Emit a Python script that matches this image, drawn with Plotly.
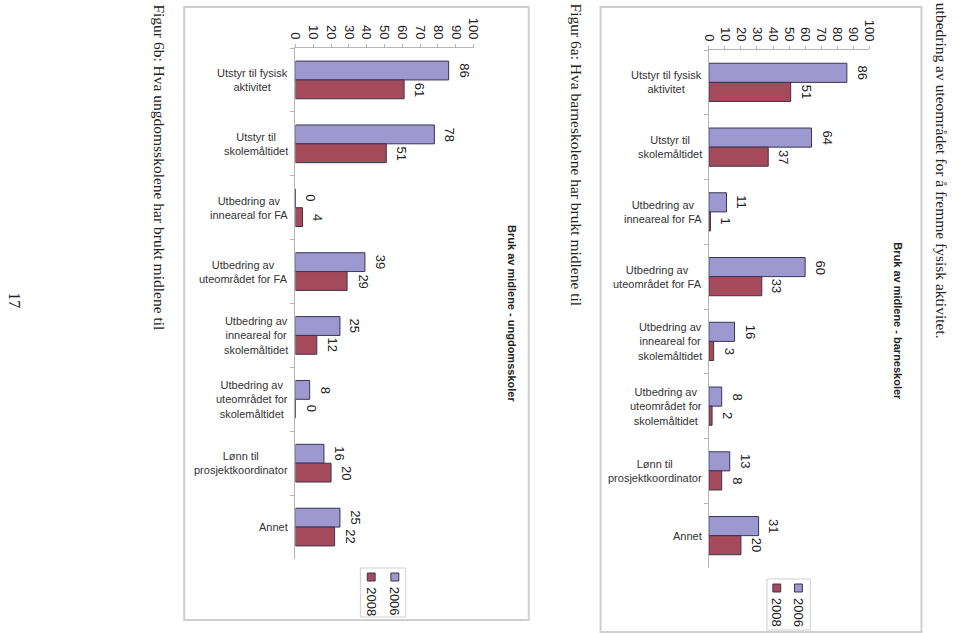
import plotly.graph_objects as go

W, H = 960, 633

categories = [
    "Utstyr til fysisk<br>aktivitet",
    "Utstyr til<br>skolemåltidet",
    "Utbedring av<br>inneareal for FA",
    "Utbedring av<br>uteområdet for FA",
    "Utbedring av<br>inneareal for<br>skolemåltidet",
    "Utbedring av<br>uteområdet for<br>skolemåltidet",
    "Lønn til<br>prosjektkoordinator",
    "Annet",
]
barne_2006 = [86, 64, 11, 60, 16, 8, 13, 31]
barne_2008 = [51, 37, 1, 33, 3, 2, 8, 20]
ungdom_2006 = [86, 78, 0, 39, 25, 8, 16, 25]
ungdom_2008 = [61, 51, 4, 29, 12, 0, 20, 22]
series_names = ["2006", "2008"]
tick_values = [0, 10, 20, 30, 40, 50, 60, 70, 80, 90, 100]

C2006 = "#9d98d0"
C2008 = "#a54a5b"
EDGE = "#3c3550"
FONT = "Liberation Sans, Arial, sans-serif"
SERIF = "Liberation Serif, Times New Roman, serif"
BARGAP = 0.41


def px(x):
    return x / W


def py(y):
    return 1 - y / H


# panel: axis ids, data, domain in pixels (x0, x1, ytop, ybottom)
panels = [
    ("x", "y", barne_2006, barne_2008, (713, 876, 50, 568)),
    ("x2", "y2", ungdom_2006, ungdom_2008, (293, 474, 48, 559)),
]

fig = go.Figure()
annotations = []
shapes = []

for xa, ya, v06, v08, dom in panels:
    band = (dom[3] - dom[2]) / len(categories)
    half_bar = band * (1 - BARGAP) / 4
    for name, vals, col, sh in ((series_names[0], v06, C2006, half_bar),
                                (series_names[1], v08, C2008, -half_bar)):
        fig.add_trace(go.Bar(
            x=vals, y=categories, orientation="h", name=name,
            marker=dict(color=col, line=dict(color=EDGE, width=1)),
            xaxis=xa, yaxis=ya, showlegend=False,
        ))
        for c, v in zip(categories, vals):
            annotations.append(dict(
                xref=xa, yref=ya, x=v, y=c, text=str(v), textangle=90,
                showarrow=False, xanchor="left", yanchor="middle",
                xshift=6, yshift=sh,
                font=dict(family=FONT, size=13, color="#222"),
            ))
    for c in categories:
        annotations.append(dict(
            xref=xa, yref=ya, x=0, y=c, text=c, showarrow=False,
            xanchor="right", yanchor="middle", align="center", xshift=-5,
            font=dict(family=FONT, size=11, color="#333"),
        ))

axis_common = dict(
    range=[0, 100], tickvals=tick_values, side="top", tickangle=90,
    showline=True, linecolor="#b5b5b5", ticks="outside", ticklen=3,
    tickcolor="#b5b5b5", showgrid=False, zeroline=False,
    tickfont=dict(family=FONT, size=13, color="#222"),
)
yaxis_common = dict(
    autorange="reversed", showline=True, linecolor="#b5b5b5",
    ticks="outside", ticklen=4, tickcolor="#b5b5b5", tickson="boundaries",
    showticklabels=False, showgrid=False, zeroline=False,
)

d1 = panels[0][4]
d2 = panels[1][4]
fig.update_layout(
    width=W, height=H, margin=dict(l=0, r=0, t=0, b=0),
    paper_bgcolor="white", plot_bgcolor="white",
    barmode="group", bargap=BARGAP, bargroupgap=0,
    xaxis=dict(domain=[px(d1[0]), px(d1[1])], anchor="y", **axis_common),
    yaxis=dict(domain=[py(d1[3]), py(d1[2])], anchor="x", **yaxis_common),
    xaxis2=dict(domain=[px(d2[0]), px(d2[1])], anchor="y2", **axis_common),
    yaxis2=dict(domain=[py(d2[3]), py(d2[2])], anchor="x2", **yaxis_common),
)

# chart frames
shapes.append(dict(type="rect", xref="paper", yref="paper",
                   x0=px(603), x1=px(929), y0=py(632), y1=py(7),
                   line=dict(color="#cfcfcf", width=2)))
shapes.append(dict(type="rect", xref="paper", yref="paper",
                   x0=px(180), x1=px(530), y0=py(620), y1=py(7),
                   line=dict(color="#cfcfcf", width=2)))

# chart titles
annotations.append(dict(xref="paper", yref="paper", x=px(913), y=py(321),
                        text="<b>Bruk av midlene - barneskoler</b>", textangle=90,
                        showarrow=False, font=dict(family=FONT, size=11, color="#222")))
annotations.append(dict(xref="paper", yref="paper", x=px(513), y=py(314),
                        text="<b>Bruk av midlene - ungdomsskoler</b>", textangle=90,
                        showarrow=False, font=dict(family=FONT, size=11, color="#222")))

# legends (drawn manually, rotated)
for (bx0, bx1, by0, by1, sq06, sq08, sqy) in (
    (772, 816, 579, 630, 804, 782, 588),
    (359, 405, 568, 617, 394, 370, 577),
):
    shapes.append(dict(type="rect", xref="paper", yref="paper",
                       x0=px(bx0), x1=px(bx1), y0=py(by1), y1=py(by0),
                       line=dict(color="#cfcfcf", width=1)))
    for sx, col, label in ((sq06, C2006, series_names[0]), (sq08, C2008, series_names[1])):
        shapes.append(dict(type="rect", xref="paper", yref="paper",
                           x0=px(sx - 4), x1=px(sx + 4), y0=py(sqy + 4), y1=py(sqy - 4),
                           fillcolor=col, line=dict(color=EDGE, width=1)))
        annotations.append(dict(xref="paper", yref="paper", x=px(sx), y=py(sqy + 8),
                                text=label, textangle=90, showarrow=False,
                                xanchor="center", yanchor="top",
                                font=dict(family=FONT, size=13, color="#222")))

# page texts
annotations.append(dict(xref="paper", yref="paper", x=px(950), y=py(1),
                        text="utbedring av uteområdet for å fremme fysisk aktivitet.",
                        textangle=90, showarrow=False, xanchor="center", yanchor="top",
                        font=dict(family=SERIF, size=15.5, color="#222")))
annotations.append(dict(xref="paper", yref="paper", x=px(579), y=py(2),
                        text="Figur 6a: Hva barneskolene har brukt midlene til",
                        textangle=90, showarrow=False, xanchor="center", yanchor="top",
                        font=dict(family=SERIF, size=15.5, color="#222")))
annotations.append(dict(xref="paper", yref="paper", x=px(155), y=py(2),
                        text="Figur 6b: Hva ungdomsskolene har brukt midlene til",
                        textangle=90, showarrow=False, xanchor="center", yanchor="top",
                        font=dict(family=SERIF, size=15.5, color="#222")))
annotations.append(dict(xref="paper", yref="paper", x=px(8), y=py(300),
                        text="17", textangle=90, showarrow=False,
                        xanchor="center", yanchor="middle",
                        font=dict(family=SERIF, size=16, color="#222")))

fig.update_layout(shapes=shapes, annotations=annotations)
fig.write_html("out.html")
